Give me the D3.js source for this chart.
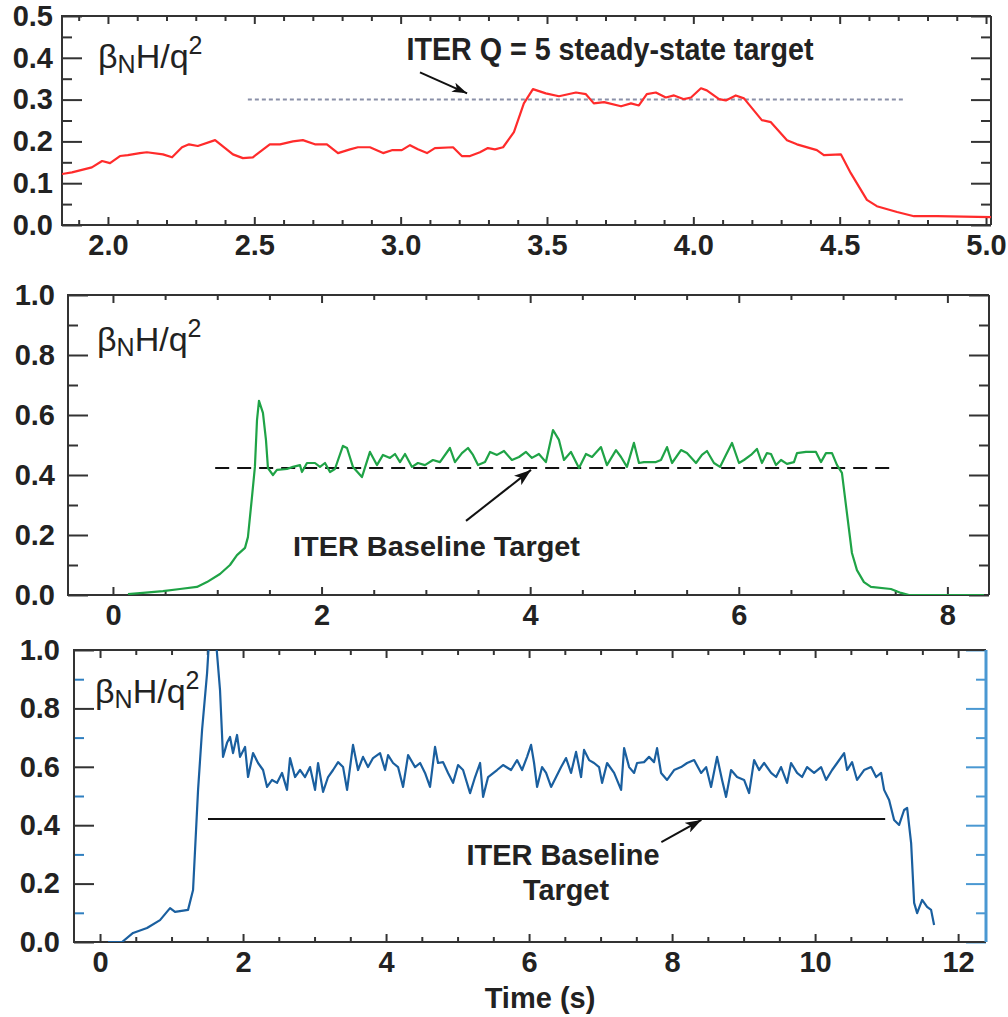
<!DOCTYPE html>
<html><head><meta charset="utf-8">
<script src="https://cdn.jsdelivr.net/npm/d3@7"></script>
<style>
body{margin:0;background:#fff}
svg{display:block}
text{font-family:"Liberation Sans",Arial,Helvetica,sans-serif}
</style>
</head><body>
<svg id="c" width="1008" height="1017"></svg>
<script>
// ---------------- DATA ----------------
// Panel 1 (red): time (s) and betaN H / q^2
const topTime = [1.843,1.877,1.945,1.980,2.007,2.041,2.068,2.109,2.133,2.188,2.219,2.253,2.277,2.307,2.366,2.427,2.461,2.495,2.553,2.588,2.632,2.666,2.707,2.748,2.786,2.827,2.854,2.895,2.940,2.970,3.004,3.032,3.059,3.090,3.117,3.179,3.209,3.237,3.271,3.298,3.322,3.350,3.387,3.421,3.452,3.496,3.541,3.599,3.633,3.660,3.695,3.753,3.787,3.814,3.841,3.872,3.906,3.934,3.968,3.992,4.026,4.046,4.088,4.111,4.145,4.173,4.234,4.265,4.320,4.354,4.422,4.446,4.504,4.538,4.593,4.627,4.696,4.754,4.832,5.017];
const topValue = [0.122,0.126,0.138,0.153,0.148,0.165,0.167,0.172,0.174,0.169,0.162,0.186,0.193,0.189,0.203,0.169,0.160,0.162,0.193,0.193,0.200,0.203,0.193,0.193,0.172,0.181,0.186,0.186,0.172,0.179,0.179,0.191,0.181,0.172,0.184,0.186,0.165,0.165,0.174,0.184,0.181,0.186,0.222,0.291,0.325,0.315,0.308,0.317,0.313,0.291,0.294,0.284,0.291,0.286,0.313,0.317,0.305,0.310,0.301,0.305,0.327,0.322,0.301,0.298,0.310,0.303,0.251,0.246,0.203,0.193,0.179,0.167,0.169,0.124,0.060,0.045,0.031,0.021,0.021,0.019];

// Panel 2 (green)
const midTime = [0.144,0.288,0.479,0.642,0.805,0.901,1.026,1.122,1.189,1.266,1.294,1.333,1.361,1.381,1.400,1.438,1.467,1.486,1.534,1.572,1.668,1.726,1.793,1.812,1.860,1.937,1.985,2.033,2.081,2.128,2.205,2.244,2.301,2.387,2.464,2.531,2.589,2.656,2.704,2.752,2.800,2.867,2.924,2.991,3.068,3.135,3.231,3.279,3.346,3.404,3.452,3.500,3.567,3.615,3.682,3.749,3.825,3.893,3.960,4.017,4.084,4.151,4.219,4.276,4.324,4.391,4.468,4.535,4.593,4.679,4.736,4.823,4.871,4.928,4.995,5.043,5.091,5.206,5.254,5.312,5.360,5.446,5.503,5.590,5.647,5.695,5.762,5.820,5.877,5.935,6.002,6.050,6.117,6.174,6.222,6.270,6.309,6.357,6.405,6.462,6.529,6.558,6.644,6.740,6.788,6.836,6.894,6.942,6.989,7.037,7.085,7.133,7.200,7.267,7.459,7.555,7.632,8.351];
const midValue = [0.003,0.007,0.013,0.020,0.027,0.043,0.070,0.100,0.133,0.157,0.193,0.327,0.427,0.583,0.647,0.607,0.517,0.423,0.400,0.417,0.420,0.427,0.433,0.410,0.440,0.440,0.427,0.440,0.410,0.420,0.497,0.490,0.427,0.393,0.477,0.433,0.467,0.457,0.470,0.443,0.470,0.427,0.440,0.433,0.450,0.443,0.490,0.443,0.473,0.490,0.467,0.433,0.443,0.477,0.467,0.480,0.450,0.460,0.477,0.457,0.470,0.443,0.550,0.517,0.450,0.477,0.423,0.470,0.460,0.493,0.433,0.483,0.460,0.427,0.507,0.440,0.443,0.443,0.450,0.493,0.440,0.483,0.473,0.440,0.467,0.480,0.440,0.427,0.467,0.507,0.440,0.450,0.467,0.487,0.440,0.473,0.470,0.433,0.450,0.437,0.443,0.473,0.477,0.477,0.443,0.473,0.473,0.433,0.407,0.273,0.140,0.083,0.043,0.027,0.020,0.007,0.000,0.000];

// Panel 3 (blue)
const botTime = [0.112,0.308,0.462,0.657,0.839,0.979,1.049,1.231,1.301,1.371,1.427,1.497,1.524,1.622,1.678,1.720,1.776,1.818,1.860,1.916,1.958,2.028,2.070,2.140,2.210,2.280,2.336,2.406,2.476,2.545,2.615,2.657,2.727,2.797,2.867,2.937,3.007,3.049,3.119,3.189,3.259,3.329,3.399,3.455,3.538,3.608,3.678,3.748,3.818,3.916,3.986,4.028,4.098,4.168,4.238,4.308,4.406,4.476,4.545,4.615,4.685,4.727,4.797,4.867,4.937,5.007,5.077,5.175,5.245,5.315,5.357,5.427,5.552,5.636,5.748,5.832,5.902,5.972,6.028,6.070,6.112,6.182,6.238,6.308,6.378,6.448,6.517,6.587,6.657,6.727,6.769,6.839,6.909,6.979,7.021,7.091,7.189,7.287,7.329,7.399,7.469,7.510,7.608,7.678,7.748,7.790,7.846,7.930,8.028,8.126,8.210,8.308,8.406,8.476,8.545,8.629,8.699,8.755,8.825,8.909,9.007,9.077,9.147,9.217,9.287,9.385,9.455,9.524,9.608,9.664,9.748,9.818,9.888,9.986,10.084,10.154,10.238,10.308,10.406,10.448,10.517,10.587,10.685,10.783,10.853,10.923,10.965,11.035,11.105,11.175,11.245,11.287,11.343,11.385,11.427,11.497,11.566,11.622,11.664];
const botValue = [0.000,0.000,0.031,0.048,0.075,0.116,0.103,0.110,0.178,0.521,0.726,0.921,1.030,1.030,0.863,0.634,0.682,0.702,0.647,0.709,0.634,0.668,0.565,0.647,0.613,0.589,0.531,0.555,0.545,0.579,0.521,0.630,0.565,0.589,0.565,0.599,0.521,0.613,0.514,0.565,0.589,0.616,0.599,0.521,0.675,0.589,0.634,0.599,0.630,0.647,0.589,0.640,0.613,0.599,0.531,0.640,0.599,0.613,0.579,0.531,0.668,0.613,0.616,0.579,0.545,0.606,0.589,0.510,0.565,0.613,0.497,0.565,0.589,0.606,0.589,0.623,0.589,0.634,0.675,0.613,0.531,0.599,0.579,0.531,0.565,0.599,0.630,0.579,0.651,0.565,0.658,0.623,0.613,0.599,0.545,0.613,0.579,0.521,0.664,0.599,0.579,0.613,0.616,0.634,0.616,0.664,0.579,0.555,0.589,0.599,0.613,0.623,0.579,0.599,0.531,0.634,0.555,0.497,0.589,0.565,0.555,0.510,0.623,0.589,0.613,0.579,0.565,0.599,0.545,0.613,0.579,0.565,0.599,0.579,0.599,0.555,0.589,0.613,0.647,0.589,0.616,0.555,0.589,0.599,0.565,0.579,0.521,0.486,0.418,0.401,0.452,0.459,0.339,0.134,0.099,0.144,0.120,0.110,0.058];

// Tick values / labels
const topYMajor = [0,0.1,0.2,0.3,0.4,0.5];
const topYMinor = [0.05,0.15,0.25,0.35,0.45];
const topXMajor = [2.0,2.5,3.0,3.5,4.0,4.5,5.0];
const topXMinor = [1.9,2.1,2.2,2.3,2.4,2.6,2.7,2.8,2.9,3.1,3.2,3.3,3.4,3.6,3.7,3.8,3.9,4.1,4.2,4.3,4.4,4.6,4.7,4.8,4.9];
const midYMajor = [0,0.2,0.4,0.6,0.8,1.0];
const midYMinor = [0.1,0.3,0.5,0.7,0.9];
const midXMajor = [0,2,4,6,8];
const midXMinor = [0.5,1,1.5,2.5,3,3.5,4.5,5,5.5,6.5,7,7.5];
const botYMajor = [0,0.2,0.4,0.6,0.8,1.0];
const botYMinor = [0.1,0.3,0.5,0.7,0.9];
const botXMajor = [0,2,4,6,8,10,12];
const botXMinor = [0.5,1,1.5,2.5,3,3.5,4.5,5,5.5,6.5,7,7.5,8.5,9,9.5,10.5,11,11.5];

// Targets and annotations (data units)
const topTarget = {value:0.3, from:2.478, to:4.723};
const midTarget = {value:0.423, from:0.98, to:7.48};
const botTarget = {value:0.421, from:1.51, to:10.98};
const topArrow = {x1:3.066,y1:0.365,x2:3.227,y2:0.315};
const midArrow = {x1:3.385,y1:0.247,x2:4.008,y2:0.417};
const botArrow = {x1:7.85,y1:0.342,x2:8.41,y2:0.418};

// ---------------- DRAW ----------------
const svg = d3.select("#c");
const defs = svg.append("defs");
function marker(id, w, h){
  defs.append("marker").attr("id",id).attr("viewBox",`0 0 ${w} ${h}`)
    .attr("refX",w).attr("refY",h/2).attr("markerWidth",w).attr("markerHeight",h)
    .attr("markerUnits","userSpaceOnUse").attr("orient","auto")
    .append("path").attr("d",`M0,0L${w},${h/2}L0,${h}L${w*0.25},${h/2}Z`).attr("fill","#111");
}
marker("ah1",15,10); marker("ah2",17,12); marker("ah3",16,11);

const FONT_TICK = 29;
function panel(o){
  const g = svg.append("g");
  const x = d3.scaleLinear().domain(o.xd).range([o.l,o.r]);
  const y = d3.scaleLinear().domain(o.yd).range([o.b,o.t]);
  const clipId = "clip"+o.id;
  defs.append("clipPath").attr("id",clipId).append("rect")
    .attr("x",o.l).attr("y",o.t).attr("width",o.r-o.l).attr("height",o.b-o.t);

  const styleAxis = (sel, col) => { sel.select(".domain").remove();
    sel.selectAll("line").attr("stroke",col).attr("stroke-width",2); };
  const styleText = s => s.selectAll("text").attr("font-size",FONT_TICK).attr("font-weight","bold").attr("fill","#222");

  // y axes left
  g.append("g").attr("transform",`translate(${o.l},0)`)
    .call(d3.axisLeft(y).tickValues(o.yMinor).tickSize(-10).tickFormat(""))
    .call(s=>styleAxis(s,o.minorCol||"#333"));
  g.append("g").attr("transform",`translate(${o.l},0)`)
    .call(d3.axisLeft(y).tickValues(o.yMajor).tickSize(-20).tickPadding(o.ypad).tickFormat(d3.format(".1f")))
    .call(s=>{styleAxis(s,"#333"); styleText(s);});
  // y axes right
  const rc = o.rightCol||"#333";
  g.append("g").attr("transform",`translate(${o.r},0)`)
    .call(d3.axisRight(y).tickValues(o.yMinor).tickSize(-10).tickFormat(""))
    .call(s=>styleAxis(s,rc));
  g.append("g").attr("transform",`translate(${o.r},0)`)
    .call(d3.axisRight(y).tickValues(o.yMajor).tickSize(-20).tickFormat(""))
    .call(s=>styleAxis(s,rc));
  // x axes bottom
  g.append("g").attr("transform",`translate(0,${o.b})`)
    .call(d3.axisBottom(x).tickValues(o.xMinor).tickSize(-5).tickFormat(""))
    .call(s=>styleAxis(s,"#333"));
  g.append("g").attr("transform",`translate(0,${o.b})`)
    .call(d3.axisBottom(x).tickValues(o.xMajor).tickSize(-8).tickPadding(9).tickFormat(o.xfmt))
    .call(s=>{styleAxis(s,"#333"); styleText(s);});
  // x axes top
  g.append("g").attr("transform",`translate(0,${o.t})`)
    .call(d3.axisTop(x).tickValues(o.xMinor).tickSize(-5).tickFormat(""))
    .call(s=>styleAxis(s,"#333"));
  g.append("g").attr("transform",`translate(0,${o.t})`)
    .call(d3.axisTop(x).tickValues(o.xMajor).tickSize(-8).tickFormat(""))
    .call(s=>styleAxis(s,"#333"));

  // frame
  g.append("path").attr("d",`M${o.r},${o.t}H${o.l}V${o.b}H${o.r}`).attr("fill","none").attr("stroke","#333").attr("stroke-width",2);
  g.append("line").attr("x1",o.r).attr("x2",o.r).attr("y1",o.t).attr("y2",o.b).attr("stroke",rc).attr("stroke-width",o.rightCol?3:2);

  // target line
  g.append("line").attr("x1",x(o.target.from)).attr("x2",x(o.target.to))
    .attr("y1",y(o.target.value)).attr("y2",y(o.target.value))
    .attr("stroke",o.targetCol).attr("stroke-width",2).attr("stroke-dasharray",o.targetDash);

  // data line
  const pts = o.tx.map((t,i)=>[t,o.vy[i]]);
  g.append("path").datum(pts).attr("clip-path",`url(#${clipId})`)
    .attr("d",d3.line().x(d=>x(d[0])).y(d=>y(d[1])))
    .attr("fill","none").attr("stroke",o.col).attr("stroke-width",2.2).attr("stroke-linejoin","round");

  // arrow
  g.append("line").attr("x1",x(o.arrow.x1)).attr("y1",y(o.arrow.y1)).attr("x2",x(o.arrow.x2)).attr("y2",y(o.arrow.y2))
    .attr("stroke","#111").attr("stroke-width",2).attr("marker-end",`url(#${o.marker})`);

  // ylabel betaN H/q^2
  const lab = g.append("text").attr("x",o.labX).attr("y",o.labY).attr("font-size",34).attr("fill","#222");
  lab.append("tspan").text("β");
  lab.append("tspan").attr("font-size",25).attr("dy",5).text("N");
  lab.append("tspan").attr("dy",-5).text("H/q");
  lab.append("tspan").attr("font-size",25).attr("dy",-14).text("2");
  return {g,x,y};
}

const P1 = panel({id:1,l:62,r:991,t:16,b:225,xd:[1.843,5.017],yd:[0,0.5],
  yMajor:topYMajor,yMinor:topYMinor,xMajor:topXMajor,xMinor:topXMinor,ypad:9,xfmt:d3.format(".1f"),
  tx:topTime,vy:topValue,col:"#ff2b2b",target:topTarget,targetCol:"#8a90a8",targetDash:"4,3",
  arrow:topArrow,marker:"ah1",labX:98,labY:68});
const P2 = panel({id:2,l:68,r:989,t:295,b:595,xd:[-0.431,8.399],yd:[0,1],
  yMajor:midYMajor,yMinor:midYMinor,xMajor:midXMajor,xMinor:midXMinor,ypad:13,xfmt:d3.format("d"),
  tx:midTime,vy:midValue,col:"#1fa346",target:midTarget,targetCol:"#111",targetDash:"14,8",
  arrow:midArrow,marker:"ah2",labX:97,labY:351});
const P3 = panel({id:3,l:74,r:986,t:650,b:942,xd:[-0.364,12.39],yd:[0,1],
  yMajor:botYMajor,yMinor:botYMinor,xMajor:botXMajor,xMinor:botXMinor,ypad:14,xfmt:d3.format("d"),
  tx:botTime,vy:botValue,col:"#1a5f9f",target:botTarget,targetCol:"#111",targetDash:null,
  arrow:botArrow,marker:"ah3",labX:95,labY:703,minorCol:"#2f7fc0",rightCol:"#4a98d2"});

// annotations text
svg.append("text").attr("x",P1.x(3.02)).attr("y",60).attr("font-size",31).attr("font-weight","bold")
  .attr("fill","#222").attr("textLength",407).attr("lengthAdjust","spacingAndGlyphs").text("ITER Q = 5 steady-state target");
svg.append("text").attr("x",293).attr("y",556).attr("font-size",28).attr("font-weight","bold")
  .attr("fill","#222").attr("textLength",287).attr("lengthAdjust","spacingAndGlyphs").text("ITER Baseline Target");
svg.append("text").attr("x",563).attr("y",865).attr("text-anchor","middle").attr("font-size",30).attr("font-weight","bold")
  .attr("fill","#222").attr("textLength",193).attr("lengthAdjust","spacingAndGlyphs").text("ITER Baseline");
svg.append("text").attr("x",566).attr("y",900).attr("text-anchor","middle").attr("font-size",30).attr("font-weight","bold")
  .attr("fill","#222").attr("textLength",86).attr("lengthAdjust","spacingAndGlyphs").text("Target");
svg.append("text").attr("x",540).attr("y",1008).attr("text-anchor","middle").attr("font-size",29).attr("font-weight","bold")
  .attr("fill","#222").text("Time (s)");
</script>
</body></html>
